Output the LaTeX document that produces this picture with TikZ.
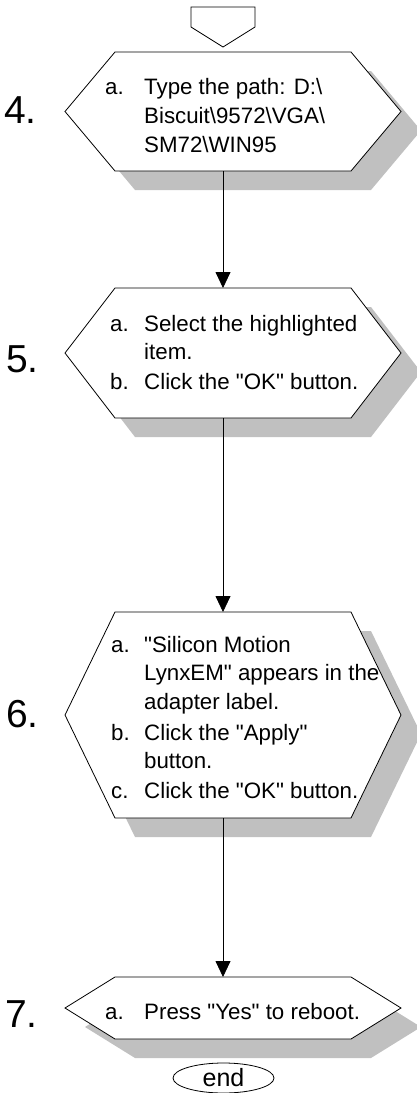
\documentclass[tikz,border=0pt]{standalone}
\usepackage{fontspec}
\setmainfont{Liberation Sans}[Ligatures=TeXOff]
\usetikzlibrary{arrows.meta,shapes.geometric}

\definecolor{shadowgray}{RGB}{192,192,192}

\newcommand{\bodyfont}{\fontsize{22.3}{26}\selectfont}
\newcommand{\numfont}{\fontsize{39}{40}\selectfont}
\newcommand{\termfont}{\fontsize{25}{26}\selectfont}
\newcommand{\bsl}{\textbackslash}

% Hexagonal process box with a drop shadow:
% #1 name, #2 top y, #3 bottom y (all boxes share the same width)
\newcommand{\stephex}[3]{%
  \pgfmathsetmacro\hmid{(#2+#3)/2}%
  \fill[shadowgray,shift={(20,19)}]
    (65,\hmid) -- (115,#2) -- (351,#2) -- (401,\hmid) -- (351,#3) -- (115,#3) -- cycle;
  \filldraw[hexline]
    (65,\hmid) -- (115,#2) -- (351,#2) -- (401,\hmid) -- (351,#3) -- (115,#3) -- cycle;
  \coordinate (#1-in) at (223,#2);
  \coordinate (#1-out) at (223,#3);
}

\begin{document}
\begin{tikzpicture}[x=1pt,y=-1pt,
  hexline/.style={draw=black,fill=white,line width=0.8pt},
  txt/.style={anchor=base west,inner sep=0pt,font=\bodyfont},
  stepnum/.style={anchor=base west,inner sep=0pt,font=\numfont},
  flow/.style={draw=black,line width=0.8pt,-{Triangle[length=16pt,width=15pt]}},
  termbox/.style={ellipse,draw=black,line width=0.8pt,minimum width=101pt,
    minimum height=30pt,inner sep=0pt,font=\termfont}]
\useasboundingbox (0,0) rectangle (417,1093);

% off-page connector at the top
\filldraw[hexline] (191,7) -- (255,7) -- (255,27) -- (223,47) -- (191,27) -- cycle;

% process boxes
\stephex{s4}{52}{171}
\stephex{s5}{288}{418}
\stephex{s6}{612}{818}
\stephex{s7}{977}{1039}

% connectors
\draw[flow] (s4-out) -- (s5-in);
\draw[flow] (s5-out) -- (s6-in);
\draw[flow] (s6-out) -- (s7-in);

% step numbers
\node[stepnum] (n4) at (4,123) {4.};
\node[stepnum] (n5) at (6,372) {5.};
\node[stepnum] (n6) at (6,727) {6.};
\node[stepnum] (n7) at (5,1027) {7.};

% step 4
\node[txt] (s4a) at (105,94) {a.};
\node[txt] (s4a1) at (144,94) {Type the path: D:\bsl};
\node[txt] (s4a2) at (144,123) {Biscuit\bsl 9572\bsl VGA\bsl};
\node[txt] (s4a3) at (144,152) {SM72\bsl WIN95};

% step 5
\node[txt] (s5a) at (110,331) {a.};
\node[txt] (s5a1) at (144,331) {Select the highlighted};
\node[txt] (s5a2) at (144,359.5) {item.};
\node[txt] (s5b) at (110,389) {b.};
\node[txt] (s5b1) at (144,389) {Click the "OK" button.};

% step 6
\node[txt] (s6a) at (111,652) {a.};
\node[txt] (s6a1) at (144,652) {"Silicon Motion};
\node[txt] (s6a2) at (144,680.5) {LynxEM" appears in the};
\node[txt] (s6a3) at (144,709) {adapter label.};
\node[txt] (s6b) at (111,740) {b.};
\node[txt] (s6b1) at (144,740) {Click the "Apply"};
\node[txt] (s6b2) at (144,768.5) {button.};
\node[txt] (s6c) at (111,798) {c.};
\node[txt] (s6c1) at (144,798) {Click the "OK" button.};

% step 7
\node[txt] (s7a) at (105,1019) {a.};
\node[txt] (s7a1) at (144,1019) {Press "Yes" to reboot.};

% terminator
\node[termbox] (stop) at (223.5,1078) {end};
\end{tikzpicture}
\end{document}
